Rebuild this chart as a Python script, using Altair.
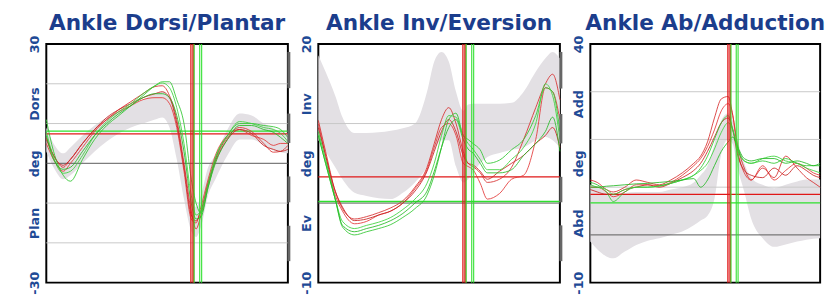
import altair as alt
import pandas as pd

# ---------------- data ----------------
pct = [0, 3, 7, 10, 15, 20, 25, 30, 35, 40, 45, 48, 51, 54, 57, 60, 62, 64, 67, 70, 75, 80, 85, 90, 94, 97, 100]
trials = ["R1", "R2", "R3", "G1", "G2", "G3"]
trial_colors = ["#d62a2a", "#e23434", "#c81e1e", "#2cc52c", "#3ad33a", "#22b822"]

# Panel 1: Ankle Dorsi/Plantar
p1_title = "Ankle Dorsi/Plantar"
p1_domain = [-30, 30]
p1_label_vals = [-30, -15, 0, 15, 30]
p1_label_txt = ["-30", "Plan", "deg", "Dors", "30"]
p1_grid = [-20, -10, 10, 20]
p1_curves = {
    "R1": [6, 2, -1, 1, 5, 8.5, 11, 13.5, 15.5, 17.5, 19.3, 19.5, 17, 11, 0, -12, -16.5, -13, -5, 1, 6.5, 9, 8, 5, 2.8, 3, 4.5],
    "R2": [5, 1, -2, 0, 4, 8, 11, 13, 14.5, 16, 16.5, 16.5, 15, 9, -2, -14, -15, -11, -4, 2, 7, 8.5, 7, 6, 4.5, 5, 5],
    "R3": [6.5, 2, -0.5, 1, 5, 8.5, 11.5, 13.5, 15, 16.5, 17.5, 18, 16.5, 10, -1, -13, -14.5, -12, -5, 0.5, 6, 8.5, 7.5, 4.5, 3.5, 3, 3.5],
    "G1": [11, 3, -3, -4.5, 1, 6, 9.5, 12, 14.5, 17, 19.5, 20.5, 20.5, 16, 10, -4, -10, -12.5, -6, 1, 7, 10, 10, 9.5, 9.2, 8.5, 6.5],
    "G2": [8, 1.5, -2.5, -2, 2, 7, 10.5, 13, 15, 17.5, 19.5, 20.2, 19, 14, 5, -8, -13, -12, -5, 1.5, 7, 10.5, 10, 9, 8.5, 7.5, 5.5],
    "G3": [7, 1, -1.5, -1, 3, 7, 10, 12.5, 14.5, 16.5, 17.5, 17.5, 16.5, 12, 3, -10, -14, -13.5, -6, 0, 6, 9.5, 9.5, 8.5, 7.8, 6.5, 5],
}
p1_band_lo = [3, -1, -4, -3, 0, 3, 5.5, 7.5, 9, 10, 11, 11.5, 9, 1, -9, -17, -18.5, -16, -8, -4, 2, 6, 6, 4.5, 3.2, 2.8, 2.5]
p1_band_hi = [9, 5, 2.5, 4, 7, 9.5, 11.5, 13, 14.5, 16, 17.5, 18, 16.5, 11, 3, -9, -11, -8, -1, 2, 8.5, 12.5, 12, 10, 8.8, 8, 7.5]
p1_hlines = [7.4, 8.1]
p1_marks_lo = [18.9, 5.1, -9.8, -24.6]
p1_marks_hi = [28, 12.5, -3.3, -15.7]

# Panel 2: Ankle Inv/Eversion
p2_title = "Ankle Inv/Eversion"
p2_domain = [-10, 20]
p2_label_vals = [-10, -2.5, 5, 12.5, 20]
p2_label_txt = ["-10", "Ev", "deg", "Inv", "20"]
p2_grid = [10]
p2_curves = {
    "R1": [10.4, 6.5, 1.5, -0.7, -2, -1.7, -1.2, -0.6, 0.3, 2, 4.5, 7.5, 10.5, 12, 10, 6.5, 5, 4.6, 3.8, 2.6, 3, 4.5, 8, 12, 15, 16.2, 13],
    "R2": [10, 6, 1, -1, -2.6, -2.3, -1.5, -1, 0, 1.8, 4.2, 7, 9.5, 10, 8.5, 5, 4.6, 4.2, 2.5, 0.5, 1.2, 3, 3.5, 8, 14.5, 14, 10.5],
    "R3": [9.5, 6, 1.5, -0.5, -2.2, -2, -1.5, -1, 0, 1.5, 4, 6.5, 9, 10.5, 9, 6, 5, 4.8, 4, 3, 4, 5, 6, 7.5, 8.5, 9.5, 7],
    "G1": [9, 5.5, 0.5, -3, -4, -3.6, -3.2, -2.7, -1.8, -0.7, 1, 3.5, 7, 10.5, 11.3, 8.5, 8, 7.5, 6.7, 5, 5.4, 6.7, 8, 11, 14.5, 14, 9],
    "G2": [8.5, 5, 0.5, -2.3, -3.2, -2.8, -2.4, -1.8, -0.8, 0.5, 2.5, 5, 8.5, 11, 10.8, 8.5, 7.5, 6.8, 5.5, 4.2, 4.2, 5.5, 7, 10, 15, 13.5, 8],
    "G3": [8.5, 5, 0.5, -2.8, -3.6, -3.2, -2.8, -2.2, -1.3, 0, 1.5, 4, 7, 9.5, 10.5, 8, 6.8, 6.3, 5, 3.8, 3.8, 4.2, 6, 7.5, 9, 10.8, 6.5],
}
p2_band_lo = [7.9, 6.5, 4.5, 3, 1.3, 0.9, 0.6, 0.5, 1.3, 2.6, 4.6, 6.7, 7.9, 7.9, 4.6, 2.6, 3, 3.8, 5, 5.8, 6.3, 6.7, 7, 7.9, 8.3, 7.9, 7]
p2_band_hi = [18.6, 16.5, 13.5, 10.8, 8.8, 8.8, 8.9, 9.1, 9.4, 10, 14, 17.8, 19, 17.8, 14, 11.6, 12.4, 12.5, 12.5, 12.5, 12.5, 12.6, 14, 16.5, 18.2, 19, 18.2]
p2_hlines = [3.3, 0.2]
p2_marks_lo = [14.4, 7.5, 0.1, -7.3]
p2_marks_hi = [19, 11.2, 3.3, -2.8]

# Panel 3: Ankle Ab/Adduction
p3_title = "Ankle Ab/Adduction"
p3_domain = [-10, 40]
p3_label_vals = [-10, 2.5, 15, 27.5, 40]
p3_label_txt = ["-10", "Abd", "deg", "Add", "40"]
p3_grid = [10, 20, 30]
p3_curves = {
    "R1": [11.5, 11, 9.5, 9, 10, 11.5, 11, 10.5, 11.5, 13, 15, 16.5, 19.5, 24.5, 28.5, 29, 25, 19, 14, 11.5, 14, 12, 16.5, 14, 12, 11, 10],
    "R2": [10, 10, 9, 8, 9, 10.5, 10.5, 10.3, 11, 12.5, 14.5, 16, 18.5, 22, 26, 27.5, 25, 18, 13, 11.5, 14.5, 11.5, 13.5, 15, 14, 13, 12.5],
    "R3": [9.5, 9, 8.5, 8.5, 9.5, 10, 10.5, 10, 10.8, 12, 13.5, 15, 17.5, 20.5, 23.5, 24.5, 22, 17, 13.5, 12.5, 12, 14, 12.5, 14.5, 13.5, 12.5, 12],
    "G1": [11, 10.5, 9, 7, 9, 10, 10, 10.3, 10.8, 11.5, 12.5, 14, 16.5, 20, 23.5, 25, 22, 18, 15.5, 15, 15.5, 15, 16, 15, 14.5, 14.5, 14.5],
    "G2": [10.5, 10, 9.5, 8.5, 9.5, 10, 10, 10.2, 10.8, 11.5, 12.5, 13.5, 15, 18, 21.5, 23.5, 22, 18.5, 15.5, 15, 16, 16.5, 15.5, 15, 14, 13.5, 13],
    "G3": [10, 10, 10.2, 10.3, 10.5, 10.7, 10.8, 11, 11.2, 11.5, 11.8, 10, 11.5, 14.5, 17.5, 19.5, 20.5, 18.5, 16, 15.5, 16, 16, 15, 15.5, 15, 14.5, 15],
}
p3_band_lo = [-1.4, -3, -4.5, -4.9, -3.5, -2.1, -1.2, -0.7, 0, 0.7, 2, 3, 4, 7.5, 17, 20, 19, 14.3, 9, 3.4, -0.7, -2.5, -2, -1.4, -1, -0.8, -0.7]
p3_band_hi = [10.5, 10, 9, 8.5, 8.8, 9, 9, 9, 9.5, 10, 11, 12.5, 14.5, 19, 24, 25.5, 24, 20, 15, 12, 10.5, 9.8, 10.5, 11.2, 11.6, 11.6, 11.6]
p3_hlines = [8.5, 6.7]
p3_marks_lo = []
p3_marks_hi = []

# gait events (toe off), percent of cycle
event_pct = [59.8, 60.4, 61.0, 61.2, 63.5, 64.3]
event_side = ["R", "R", "R", "G", "G", "G"]
hline_side = ["R", "G"]

side_colors = ["#e01818", "#2ee02e"]
TITLE_COLOR = "#1b3d8c"
LABEL_COLOR = "#1f4b96"
FONT = "DejaVu Sans"
H = 243


def make_panel(title, width, domain, label_vals, label_txt, grid, curves, band_lo, band_hi, hlines, marks_lo, marks_hi):
    expr = " : ".join(f"datum.value == {v} ? '{t}'" for v, t in zip(label_vals, label_txt)) + " : ''"

    def ych(field="value"):
        return alt.Y(
            f"{field}:Q",
            scale=alt.Scale(domain=domain, nice=False, zero=False),
            axis=alt.Axis(
                values=label_vals, labelExpr=expr, labelAngle=270, labelAlign="center",
                labelBaseline="bottom", labelFont=FONT, labelFontSize=13, labelFontWeight="bold",
                labelColor=LABEL_COLOR, labelPadding=5, ticks=False, domain=False, grid=False,
                labelFlush=False, labelOverlap=False, labelBound=False, title=None,
            ),
        )

    xch = alt.X("pct:Q", scale=alt.Scale(domain=[0, 100], nice=False), axis=None)

    band_df = pd.DataFrame({"pct": pct, "lo": band_lo, "hi": band_hi})
    band = alt.Chart(band_df).mark_area(color="#e3e0e4", interpolate="monotone").encode(
        x=xch, y=ych("lo"), y2="hi"
    )

    grid_df = pd.DataFrame({"value": grid})
    grid_layer = alt.Chart(grid_df).mark_rule(color="#c8c8c8", strokeWidth=1).encode(y=ych())

    zero_df = pd.DataFrame({"value": [0]})
    zero_layer = alt.Chart(zero_df).mark_rule(color="#5a5a5a", strokeWidth=1).encode(y=ych())

    hl_df = pd.DataFrame({"value": hlines, "side": hline_side})
    hl_layer = alt.Chart(hl_df).mark_rule(strokeWidth=1.4).encode(
        y=ych(),
        color=alt.Color("side:N", scale=alt.Scale(domain=["R", "G"], range=side_colors), legend=None),
    )

    rows = []
    for t in trials:
        for p, v in zip(pct, curves[t]):
            rows.append({"pct": p, "value": v, "trial": t})
    cdf = pd.DataFrame(rows)
    lines = alt.Chart(cdf).mark_line(strokeWidth=1.0, opacity=0.85, interpolate="monotone").encode(
        x=xch, y=ych(),
        color=alt.Color("trial:N", scale=alt.Scale(domain=trials, range=trial_colors), legend=None),
        detail="trial:N",
    )

    ev_df = pd.DataFrame({"pct": event_pct, "side": event_side})
    ev_layer = alt.Chart(ev_df).mark_rule(strokeWidth=1.2, opacity=0.9).encode(
        x=xch,
        color=alt.Color("side:N", scale=alt.Scale(domain=["R", "G"], range=side_colors), legend=None),
    )

    layers = [band, grid_layer, zero_layer, hl_layer, lines, ev_layer]
    if marks_lo:
        mk_df = pd.DataFrame({"lo": marks_lo, "hi": marks_hi})
        layers.append(alt.Chart(mk_df).mark_rule(color="#666666", strokeWidth=3).encode(
            x=alt.value(width + 1), y=ych("lo"), y2="hi"
        ))

    return alt.layer(*layers).resolve_scale(color="independent").properties(
        width=width, height=H,
        title=alt.TitleParams(title, font=FONT, fontSize=22, fontWeight="bold", color=TITLE_COLOR,
                              anchor="middle", offset=0),
    )


p1 = make_panel(p1_title, 246, p1_domain, p1_label_vals, p1_label_txt, p1_grid, p1_curves, p1_band_lo, p1_band_hi, p1_hlines, p1_marks_lo, p1_marks_hi)
p2 = make_panel(p2_title, 246, p2_domain, p2_label_vals, p2_label_txt, p2_grid, p2_curves, p2_band_lo, p2_band_hi, p2_hlines, p2_marks_lo, p2_marks_hi)
p3 = make_panel(p3_title, 234, p3_domain, p3_label_vals, p3_label_txt, p3_grid, p3_curves, p3_band_lo, p3_band_hi, p3_hlines, p3_marks_lo, p3_marks_hi)

chart = alt.hconcat(p1, p2, p3, spacing=8).properties(
    padding={"left": 20, "top": 0, "right": 0, "bottom": 0}
).configure(background="white").configure_view(stroke="black", strokeWidth=2)

chart.save("out.html", embed_options={"renderer": "svg", "actions": False})
